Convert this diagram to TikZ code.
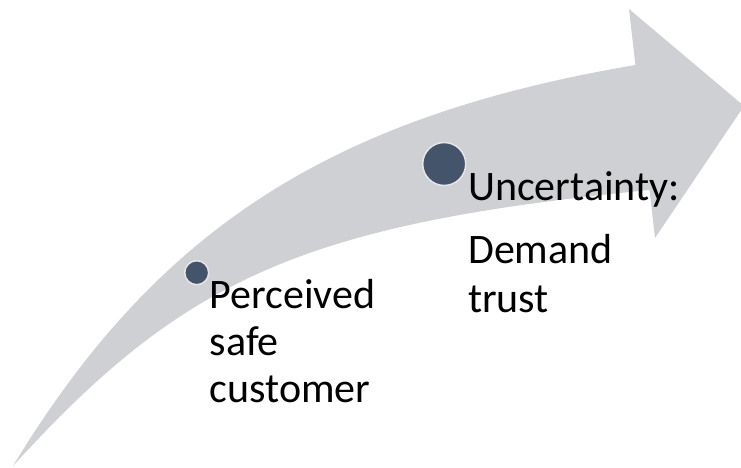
\documentclass[tikz,border=0pt]{standalone}
\usepackage{fontspec}
\setmainfont{Carlito}
\definecolor{arrowgray}{HTML}{CFD0D4}
\definecolor{dotfill}{HTML}{44546A}
\definecolor{dotring}{HTML}{E6E6E6}
\begin{document}
\begin{tikzpicture}[x=1pt,y=-1pt,
  dot/.style={circle,fill=dotfill,draw=dotring,line width=1.5pt,inner sep=0pt},
  lbl/.style={anchor=base west,inner sep=0pt,font=\fontsize{42}{50}\selectfont,text=black}]
\useasboundingbox (0,0) rectangle (741,468);
\clip (0,0) rectangle (741,468);
\fill[arrowgray] (13,466) .. controls (156.6,229) and (330.8,116.7) .. (635.4,65)
  -- (629,9) -- (744,106) -- (655,238) -- (649.5,190)
  .. controls (302,224) and (183,279) .. (13,466) -- cycle;
\node[dot,minimum size=24pt] (d1) at (196.7,272.7) {};
\node[dot,minimum size=43pt] (d2) at (444.2,164) {};
\node[lbl] (p1) at (209.5,308) {Perceived};
\node[lbl] (p2) at (209.5,355) {safe};
\node[lbl] (p3) at (209.5,402) {customer};
\node[lbl] (u1) at (468,200) {Uncertainty:};
\node[lbl] (u2) at (468,263) {Demand};
\node[lbl] (u3) at (468,312) {trust};
\end{tikzpicture}
\end{document}
